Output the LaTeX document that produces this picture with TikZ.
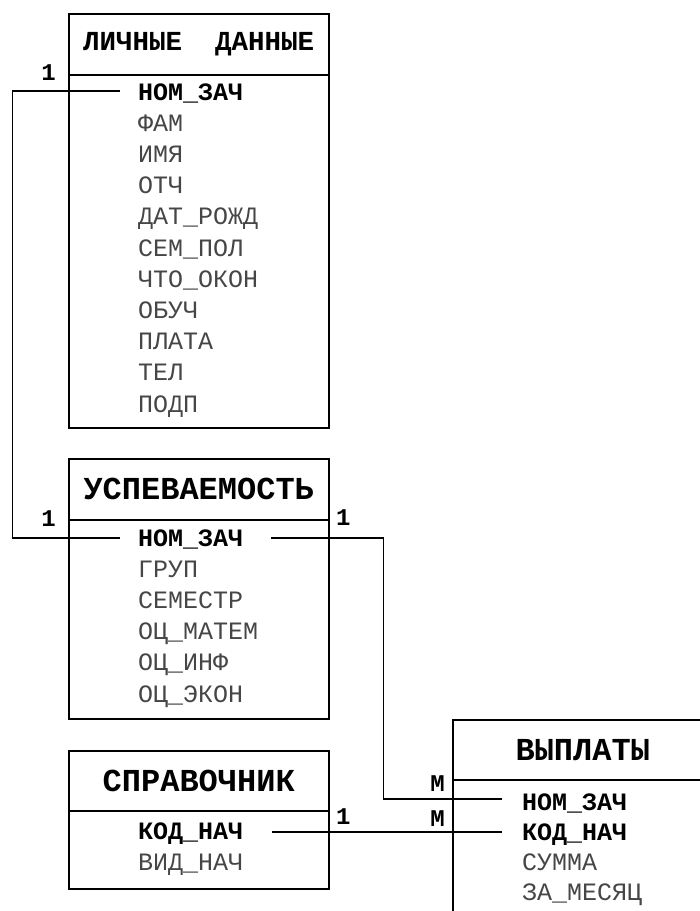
\documentclass[tikz,border=0pt]{standalone}
\usepackage{fontspec}
\setmonofont{Liberation Mono}
\usepackage{tikz}
\usetikzlibrary{positioning}
\definecolor{fieldgray}{RGB}{70,70,70}

\begin{document}
\begin{tikzpicture}[x=1pt,y=-1pt,
  every node/.style={font=\ttfamily,inner sep=0pt},
  tblhead/.style={draw,line width=1.5pt,anchor=north west,minimum width=260pt,
    font=\ttfamily\bfseries\fontsize{32}{32}\selectfont},
  tblbody/.style={draw,line width=1.5pt,anchor=north west,minimum width=260pt},
  keyfld/.style={anchor=base west,font=\ttfamily\bfseries\fontsize{25}{25}\selectfont},
  fld/.style={anchor=base west,text=fieldgray,font=\ttfamily\fontsize{25}{25}\selectfont},
  card/.style={font=\ttfamily\bfseries\fontsize{24}{24}\selectfont},
  link/.style={line width=1.2pt}]
  \clip (0,0) rectangle (700,911);

  % personal data
  \node[tblhead,minimum height=61pt,font=\ttfamily\bfseries\fontsize{27.5}{27.5}\selectfont] (lichHead) at (68,13)
    {ЛИЧНЫЕ\ \ ДАННЫЕ};
  \node[tblbody,minimum height=353pt] (lichBody) at (68,74) {};
  \node[keyfld] (lnom) at (138,100) {НОМ\_ЗАЧ};
  \node[fld] (lfam) at (138,131.2) {ФАМ};
  \node[fld] (limya) at (138,162.4) {ИМЯ};
  \node[fld] (lotch) at (138,193.6) {ОТЧ};
  \node[fld] (ldat) at (138,224.8) {ДАТ\_РОЖД};
  \node[fld] (lsem) at (138,256) {СЕМ\_ПОЛ};
  \node[fld] (lchto) at (138,287.2) {ЧТО\_ОКОН};
  \node[fld] (lobuch) at (138,318.4) {ОБУЧ};
  \node[fld] (lplata) at (138,349.6) {ПЛАТА};
  \node[fld] (ltel) at (138,380.8) {ТЕЛ};
  \node[fld] (lpodp) at (138,412) {ПОДП};

  % progress
  \node[tblhead,minimum height=61pt] (uspHead) at (68,458) {УСПЕВАЕМОСТЬ};
  \node[tblbody,minimum height=199pt] (uspBody) at (68,519) {};
  \node[keyfld] (unom) at (138,546) {НОМ\_ЗАЧ};
  \node[fld] (ugrup) at (138,577.2) {ГРУП};
  \node[fld] (usem) at (138,608.4) {СЕМЕСТР};
  \node[fld] (umat) at (138,639.6) {ОЦ\_МАТЕМ};
  \node[fld] (uinf) at (138,670.8) {ОЦ\_ИНФ};
  \node[fld] (uekon) at (138,702) {ОЦ\_ЭКОН};

  % reference book
  \node[tblhead,minimum height=60pt] (sprHead) at (68,750) {СПРАВОЧНИК};
  \node[tblbody,minimum height=78pt] (sprBody) at (68,810) {};
  \node[keyfld] (skod) at (138,839) {КОД\_НАЧ};
  \node[fld] (svid) at (138,870) {ВИД\_НАЧ};

  % payments
  \node[tblhead,minimum height=60pt] (vypHead) at (452,719) {ВЫПЛАТЫ};
  \node[tblbody,minimum height=170pt] (vypBody) at (452,779) {};
  \node[keyfld] (vnom) at (522,810) {НОМ\_ЗАЧ};
  \node[keyfld] (vkod) at (522,840) {КОД\_НАЧ};
  \node[fld] (vsum) at (522,870) {СУММА};
  \node[fld] (vmes) at (522,900) {ЗА\_МЕСЯЦ};

  % links
  \draw[link] ([shift={(-18pt,9pt)}]lnom.base west) -- ++(-107.5pt,0pt)
    |- ([shift={(-18pt,8pt)}]unom.base west);
  \draw[link] ([shift={(28pt,8pt)}]unom.base east) -- ++(112pt,0pt)
    |- ([shift={(-20pt,11pt)}]vnom.base west);
  \draw[link] ([shift={(29pt,7pt)}]skod.base east) -- ([shift={(-20pt,8pt)}]vkod.base west);

  \node[card,anchor=base east] (c1) at (56,80) {1};
  \node[card,anchor=base east] (c2) at (56,526) {1};
  \node[card,anchor=base west] (c3) at (336,525) {1};
  \node[card,anchor=base west] (c4) at (336,824) {1};
  \node[card,anchor=base east] (m1) at (445,791) {М};
  \node[card,anchor=base east] (m2) at (445,826) {М};
\end{tikzpicture}
\end{document}
